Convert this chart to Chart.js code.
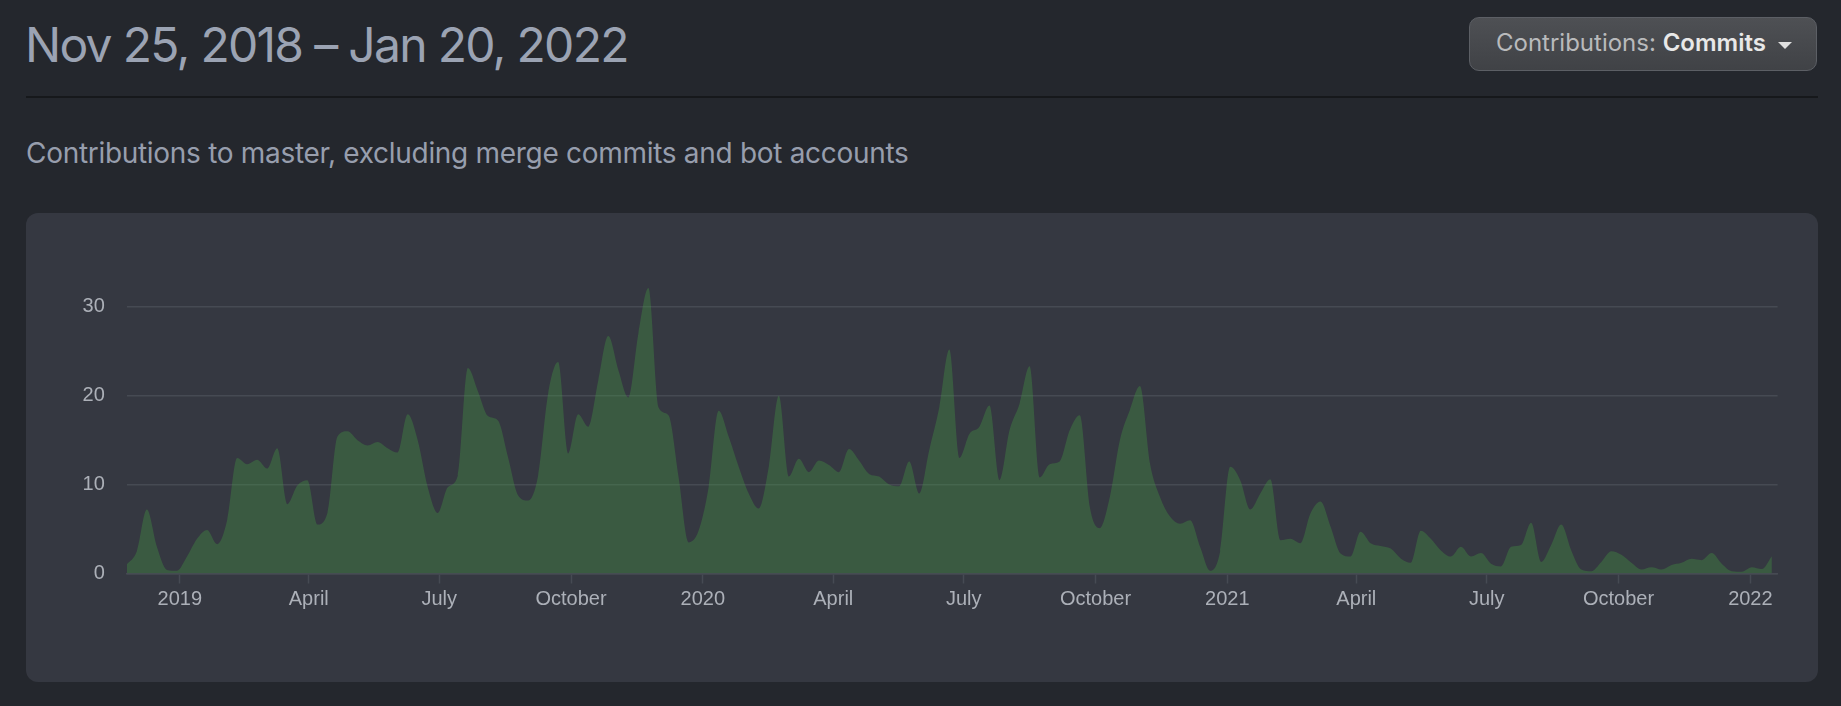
<!DOCTYPE html>
<html>
<head>
<meta charset="utf-8">
<script src="https://cdn.jsdelivr.net/npm/chart.js@4.4.1/dist/chart.umd.min.js"></script>
<style>
  html, body { margin: 0; padding: 0; background: #24272d; width: 1841px; height: 706px; overflow: hidden; }
  body { position: relative; font-family: Inter, "Noto Sans", sans-serif; }
  #title { position: absolute; left: 25px; top: 21px; font-size: 48px; line-height: 48px; color: #9ba3b3; white-space: nowrap; letter-spacing: -1.7px; }
  #rule { position: absolute; left: 26px; top: 96px; width: 1792px; height: 2px; background: #16181b; }
  #subtitle { position: absolute; left: 26px; top: 139px; font-size: 28px; line-height: 28px; color: #979ead; white-space: nowrap; letter-spacing: -0.3px; }
  #btn { position: absolute; left: 1469px; top: 17px; width: 346px; height: 52px; border: 1.5px solid #5c5f65; border-radius: 10px;
         background: linear-gradient(#4e5054, #404246); box-sizing: content-box; }
  #btn span.lbl { position: absolute; left: 26px; top: 13px; font-size: 24px; line-height: 24px; color: #b9babc; white-space: nowrap; }
  #btn b { font-weight: 600; color: #e8e8e8; }
  #caret { position: absolute; left: 308px; top: 24px; width: 0; height: 0; border-left: 7px solid transparent; border-right: 7px solid transparent; border-top: 7px solid #e0e0e0; }
  #panel { position: absolute; left: 26px; top: 213px; width: 1792px; height: 469px; background: #353841; border-radius: 12px; }
</style>
</head>
<body>
<div id="title">Nov 25, 2018 – Jan 20, 2022</div>
<div id="rule"></div>
<div id="btn"><span class="lbl">Contributions: <b>Commits</b></span><div id="caret"></div></div>
<div id="subtitle">Contributions to master, excluding merge commits and bot accounts</div>
<div id="panel"><canvas id="myChart"></canvas></div>
<script>
// weekly commit counts, first week starting Nov 25, 2018
let startDate = '2018-11-25';
let endDate = '2022-01-20';
let weeklyCommits = [
  1.0, 2.5, 7.2, 3.0, 0.4, 0.3, 1.9, 3.9, 4.9, 3.3,
  6.0, 13.0, 12.3, 12.8, 11.8, 14.1, 7.8, 9.9, 10.5, 5.5,
  6.8, 15.4, 16.0, 15.0, 14.4, 14.8, 14.1, 13.6, 17.9, 15.0,
  9.7, 6.8, 9.7, 11.0, 23.1, 20.5, 17.7, 17.2, 13.1, 8.8,
  8.2, 11.0, 20.2, 23.8, 13.5, 17.9, 16.5, 21.7, 26.7, 22.9,
  19.8, 27.0, 32.1, 18.7, 17.8, 10.9, 3.5, 4.8, 9.7, 18.3,
  15.4, 12.0, 9.0, 7.3, 12.0, 20.0, 10.9, 12.9, 11.4, 12.7,
  12.2, 11.4, 14.0, 12.7, 11.2, 10.9, 10.0, 9.8, 12.6, 9.0,
  13.9, 18.7, 25.2, 13.0, 15.7, 16.5, 18.9, 10.5, 16.1, 19.1,
  23.3, 10.8, 12.3, 12.6, 16.1, 17.8, 7.5, 5.1, 8.6, 15.0,
  18.4, 21.1, 12.4, 8.6, 6.4, 5.6, 6.0, 3.0, 0.3, 2.5,
  12.0, 10.5, 7.2, 9.0, 10.6, 3.75, 3.9, 3.4, 6.75, 8.1,
  5.3, 2.25, 1.9, 4.7, 3.4, 3.1, 2.8, 1.7, 1.2, 4.8,
  3.9, 2.6, 1.9, 3.0, 1.9, 2.3, 1.1, 0.8, 3.0, 3.2,
  5.7, 1.3, 3.2, 5.5, 2.6, 0.45, 0.26, 1.3, 2.5, 2.1,
  1.2, 0.45, 0.7, 0.45, 0.95, 1.2, 1.65, 1.5, 2.3, 1.1,
  0.26, 0.2, 0.7, 0.5, 1.95
];
let tickDates = ['2019-01-01', '2019-04-01', '2019-07-01', '2019-10-01',
                 '2020-01-01', '2020-04-01', '2020-07-01', '2020-10-01',
                 '2021-01-01', '2021-04-01', '2021-07-01', '2021-10-01', '2022-01-01'];
let tickLabels = ['2019', 'April', 'July', 'October',
                  '2020', 'April', 'July', 'October',
                  '2021', 'April', 'July', 'October', '2022'];
let yTicks = [0, 10, 20, 30];

function daysFromStart(d) {
    return (Date.parse(d + 'T00:00:00Z') - Date.parse(startDate + 'T00:00:00Z')) / 86400000;
}

let points = weeklyCommits.map((v, i) => ({ x: i * 7, y: v }));
let tickDays = tickDates.map(daysFromStart);

let canvas = document.getElementById('myChart');
canvas.width = 1792;
canvas.height = 469;

let gridColor = '#464a53';
let labelFont = { family: '"Liberation Sans", Arial, sans-serif', size: 20 };

let ctx = canvas.getContext('2d');
let myChart = new Chart(ctx, {
    type: 'line',
    data: {
        datasets: [{
            data: points,
            fill: 'origin',
            backgroundColor: 'rgba(68, 170, 66, 0.3)',
            borderWidth: 0,
            pointRadius: 0,
            cubicInterpolationMode: 'monotone'
        }]
    },
    options: {
        responsive: false,
        animation: false,
        layout: { padding: { left: 0, right: 40.4, top: 49.3, bottom: 0 } },
        plugins: { legend: { display: false }, tooltip: { enabled: false } },
        scales: {
            x: {
                type: 'linear',
                min: 0,
                max: daysFromStart(endDate),
                afterBuildTicks: (scale) => { scale.ticks = tickDays.map(v => ({ value: v })); },
                afterFit: (scale) => { scale.height = 108.5; },
                grid: { drawOnChartArea: false, drawTicks: true, tickLength: 10, tickColor: gridColor, tickWidth: 1.5 },
                border: { display: true, color: gridColor, width: 1.5 },
                ticks: {
                    autoSkip: false,
                    maxRotation: 0,
                    padding: 4,
                    color: '#acb0b8',
                    font: labelFont,
                    callback: (value, index) => tickLabels[index]
                }
            },
            y: {
                min: 0,
                max: 35,
                afterBuildTicks: (scale) => { scale.ticks = yTicks.map(v => ({ value: v })); },
                afterFit: (scale) => { scale.width = 100.8; },
                grid: { color: gridColor, lineWidth: 1.5, drawTicks: false },
                border: { display: false },
                ticks: { padding: 22, color: '#acb0b8', font: labelFont }
            }
        }
    }
});
</script>
</body>
</html>
